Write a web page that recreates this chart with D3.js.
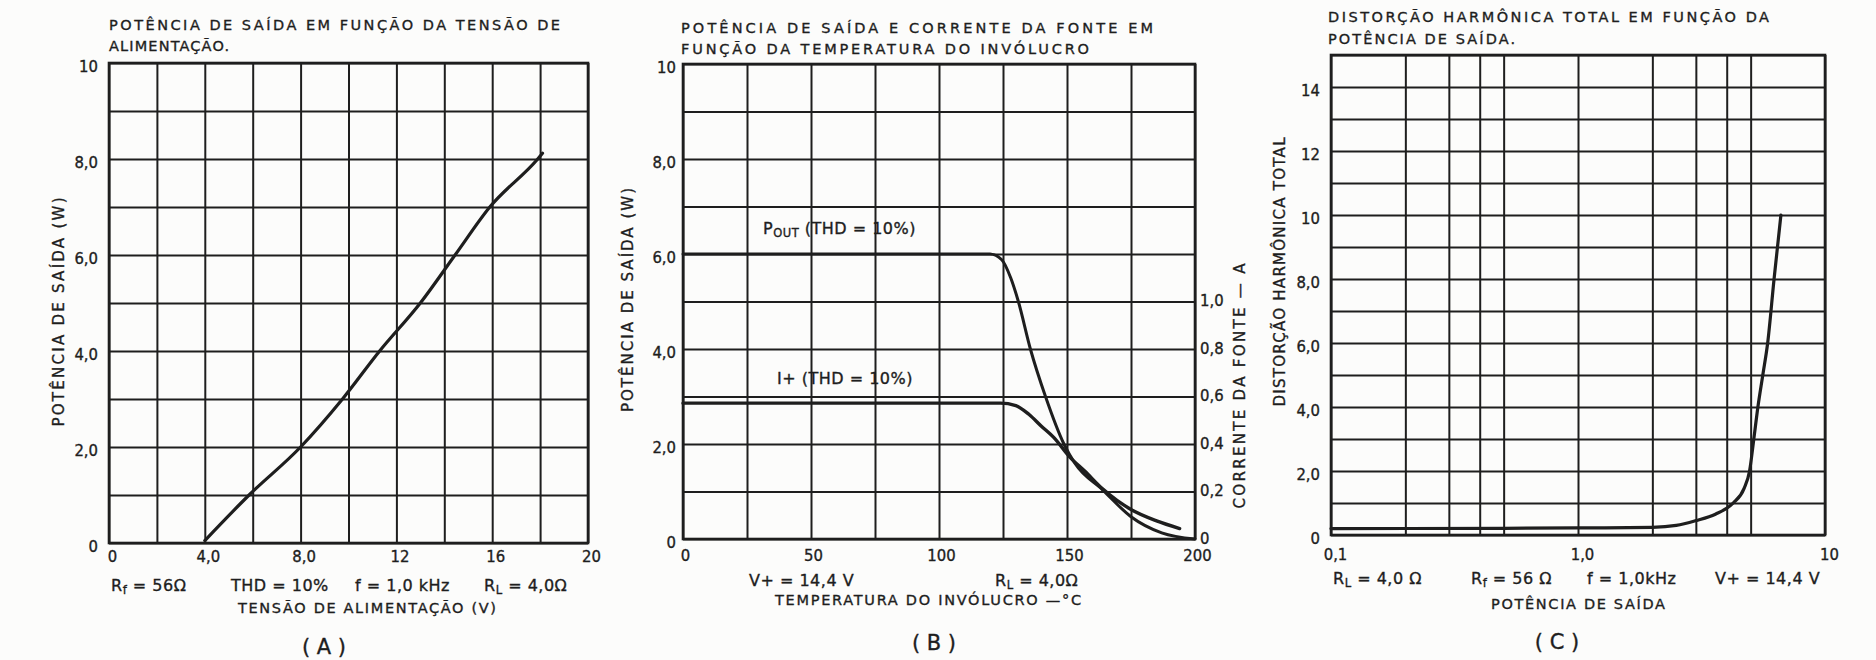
<!DOCTYPE html>
<html>
<head>
<meta charset="utf-8">
<script src="https://cdn.jsdelivr.net/npm/d3@7"></script>
<style>
  body { margin: 0; background: #fcfcfb; }
  svg { display: block; }
  text { font-family: "DejaVu Sans", sans-serif; fill: #1e1e1e; stroke: #1e1e1e; stroke-width: 0.35; }
  .tick text { font-family: "DejaVu Sans Condensed", "DejaVu Sans", sans-serif; }
</style>
</head>
<body>
<svg id="chart" width="1876" height="660"></svg>
<script>
// (A) potencia x tensao de alimentacao
var voltsA = [4.0, 5.85, 8.0, 9.75, 11.3, 13.0, 14.45, 15.9, 17.9, 18.1];
var powerA = [0.05, 1.0, 2.0, 3.0, 4.0, 5.0, 6.0, 7.0, 8.0, 8.12];
var xTicksA = [0, 4, 8, 12, 16, 20];
var xLabelsA = ["0", "4,0", "8,0", "12", "16", "20"];
var yTicksA = [0, 2, 4, 6, 8, 10];
var yLabelsA = ["0", "2,0", "4,0", "6,0", "8,0", "10"];

// (B) potencia e corrente x temperatura do involucro
var tempPout = [0, 60, 120, 124.5, 128, 131, 135.7, 141.6, 148.8, 153, 164, 175, 187, 200];
var pout = [6, 6, 6, 5.88, 5.5, 5.0, 4.0, 3.0, 2.0, 1.6, 1.03, 0.47, 0.13, 0];
var tempIplus = [0, 60, 124, 130, 135.2, 140, 144.8, 151.2, 157, 164, 175, 185, 194];
var iplus = [0.572, 0.572, 0.572, 0.562, 0.524, 0.475, 0.428, 0.344, 0.285, 0.21, 0.124, 0.076, 0.044];
var xTicksB = [0, 50, 100, 150, 200];
var xLabelsB = ["0", "50", "100", "150", "200"];
var yTicksB = [0, 2, 4, 6, 8, 10];
var yLabelsB = ["0", "2,0", "4,0", "6,0", "8,0", "10"];
var iTicksB = [0, 0.2, 0.4, 0.6, 0.8, 1.0];
var iLabelsB = ["0", "0,2", "0,4", "0,6", "0,8", "1,0"];

// (C) THD x potencia de saida
var powerC = [0.1, 0.5, 1.0, 2.0, 2.5, 3.0, 3.6, 4.25, 4.7, 4.95, 5.15, 5.35, 5.6, 5.86, 6.22, 6.63];
var thdC = [0.2, 0.21, 0.22, 0.24, 0.3, 0.45, 0.65, 1.0, 1.45, 2.0, 3.0, 4.0, 5.0, 6.0, 8.0, 10.0];
var xGridC = [0.1, 0.2, 0.3, 0.4, 0.5, 1, 2, 3, 4, 5, 10];
var xTicksC = [0.1, 1, 10];
var xLabelsC = ["0,1", "1,0", "10"];
var yTicksC = [0, 2, 4, 6, 8, 10, 12, 14];
var yLabelsC = ["0", "2,0", "4,0", "6,0", "8,0", "10", "12", "14"];

var ink = "#1e1e1e";
var svg = d3.select("#chart");

function txt(s, x, y, size, opts) {
    opts = opts || {};
    var t = svg.append("text")
        .attr("x", x).attr("y", y)
        .attr("font-size", size)
        .attr("text-anchor", opts.anchor || "start")
        .attr("dominant-baseline", "central")
        .attr("letter-spacing", opts.ls || 0);
    if (opts.len) t.attr("textLength", opts.len).attr("lengthAdjust", "spacing");
    if (opts.rot) t.attr("transform", "rotate(-90," + x + "," + y + ")");
    t.text(s);
    return t;
}

// text with a subscript, e.g. R_f = 56 ohm
function subTxt(parts, x, y, size) {
    var t = svg.append("text").attr("x", x).attr("y", y)
        .attr("font-size", size).attr("dominant-baseline", "central")
        .attr("letter-spacing", 0.5);
    t.append("tspan").text(parts[0]);
    if (parts.length > 1) {
        t.append("tspan").attr("font-size", size * 0.72).attr("dy", 5).text(parts[1]);
        t.append("tspan").attr("dy", -5).text(parts[2]);
    }
    return t;
}

function grid(x, y, xVals, yVals) {
    var h = y.range()[0] - y.range()[1];
    var w = x.range()[1] - x.range()[0];
    var gx = svg.append("g").attr("transform", "translate(0," + y.range()[0] + ")")
        .call(d3.axisBottom(x).tickValues(xVals).tickSize(-h).tickFormat(""));
    var gy = svg.append("g").attr("transform", "translate(" + x.range()[0] + ",0)")
        .call(d3.axisLeft(y).tickValues(yVals).tickSize(-w).tickFormat(""));
    [gx, gy].forEach(function (g) {
        g.select(".domain").remove();
        g.selectAll("line").attr("stroke", ink).attr("stroke-width", 2);
    });
    svg.append("rect")
        .attr("x", x.range()[0]).attr("y", y.range()[1])
        .attr("width", w).attr("height", h)
        .attr("fill", "none").attr("stroke", ink).attr("stroke-width", 2.6);
}

function labels(axis, pos, vals, names, pad) {
    var g = svg.append("g").attr("transform", pos)
        .call(axis.tickValues(vals).tickSize(0).tickPadding(pad)
            .tickFormat(function (d, i) { return names[i]; }));
    g.select(".domain").remove();
    g.attr("font-family", null).attr("font-size", null);
    g.selectAll("text").attr("font-size", 16.5).attr("fill", ink);
    return g;
}

function curve(x, y, xs, ys, wdt) {
    var line = d3.line()
        .x(function (d) { return x(d[0]); })
        .y(function (d) { return y(d[1]); })
        .curve(d3.curveMonotoneX);
    svg.append("path")
        .attr("d", line(xs.map(function (v, i) { return [v, ys[i]]; })))
        .attr("fill", "none").attr("stroke", ink)
        .attr("stroke-width", wdt).attr("stroke-linecap", "round").attr("stroke-linejoin", "round");
}

/* ---------- (A) ---------- */
(function () {
    var x = d3.scaleLinear().domain([0, 20]).range([109, 588]);
    var y = d3.scaleLinear().domain([0, 10]).range([543, 63]);
    grid(x, y, d3.range(0, 21, 2), d3.range(0, 11, 1));
    curve(x, y, voltsA, powerA, 3.2);
    labels(d3.axisLeft(y), "translate(109,3)", yTicksA, yLabelsA, 11);
    labels(d3.axisBottom(x), "translate(3,550)", xTicksA, xLabelsA, 0);

    txt("POTÊNCIA DE SAÍDA EM FUNÇÃO DA TENSÃO DE", 109, 25, 14.5, { len: 451 });
    txt("ALIMENTAÇÃO.", 109, 46, 14.5, { len: 120 });
    txt("POTÊNCIA  DE  SAÍDA (W)", 59, 312, 15, { rot: true, anchor: "middle", len: 229 });

    subTxt(["R", "f", " = 56Ω"], 111, 585, 16);
    subTxt(["THD = 10%"], 231, 585, 16);
    subTxt(["f = 1,0 kHz"], 355, 585, 16);
    subTxt(["R", "L", " = 4,0Ω"], 484, 585, 16);
    txt("TENSÃO  DE  ALIMENTAÇÃO (V)", 367, 608, 14.5, { anchor: "middle", len: 258 });
    txt("( A )", 324, 647, 21, { anchor: "middle" });
})();

/* ---------- (B) ---------- */
(function () {
    var x = d3.scaleLinear().domain([0, 200]).range([683, 1195]);
    var y = d3.scaleLinear().domain([0, 10]).range([539, 64]);
    var yI = d3.scaleLinear().domain([0, 2]).range([539, 64]);
    grid(x, y, d3.range(0, 201, 25), d3.range(0, 11, 1));
    curve(x, y, tempPout, pout, 3);
    curve(x, yI, tempIplus, iplus, 3.4);
    labels(d3.axisLeft(y), "translate(683,3)", yTicksB, yLabelsB, 7);
    labels(d3.axisRight(yI), "translate(1195,-1)", iTicksB, iLabelsB, 5)
        .selectAll("text").attr("text-anchor", "start");
    labels(d3.axisBottom(x), "translate(2,549)", xTicksB, xLabelsB, 0);

    txt("POTÊNCIA  DE  SAÍDA  E  CORRENTE  DA  FONTE  EM", 681, 28, 14.5, { len: 472 });
    txt("FUNÇÃO  DA  TEMPERATURA  DO  INVÓLUCRO", 681, 49, 14.5, { len: 408 });
    txt("POTÊNCIA  DE  SAÍDA (W)", 628, 300, 15, { rot: true, anchor: "middle", len: 224 });
    txt("CORRENTE  DA  FONTE — A", 1240, 386, 15, { rot: true, anchor: "middle", len: 245 });

    var p = svg.append("text").attr("x", 763).attr("y", 228).attr("font-size", 16)
        .attr("dominant-baseline", "central").attr("letter-spacing", 0.5);
    p.append("tspan").text("P");
    p.append("tspan").attr("font-size", 11.5).attr("dy", 5).text("OUT");
    p.append("tspan").attr("dy", -5).text(" (THD = 10%)");
    txt("I+ (THD = 10%)", 777, 378, 16, { ls: 0.5 });

    subTxt(["V+ = 14,4 V"], 749, 580, 16);
    subTxt(["R", "L", " = 4,0Ω"], 995, 580, 16);
    txt("TEMPERATURA  DO  INVÓLUCRO —°C", 928, 600, 14.5, { anchor: "middle", len: 306 });
    txt("( B )", 934, 643, 21, { anchor: "middle" });
})();

/* ---------- (C) ---------- */
(function () {
    var x = d3.scaleLog().domain([0.1, 10]).range([1331, 1825]);
    var y = d3.scaleLinear().domain([0, 15]).range([535, 55]);
    grid(x, y, xGridC, d3.range(0, 16, 1));
    curve(x, y, powerC, thdC, 3.2);
    labels(d3.axisLeft(y), "translate(1331,3)", yTicksC, yLabelsC, 11);
    labels(d3.axisBottom(x), "translate(4,548)", xTicksC, xLabelsC, 0);

    txt("DISTORÇÃO  HARMÔNICA  TOTAL  EM  FUNÇÃO  DA", 1328, 17, 14.5, { len: 441 });
    txt("POTÊNCIA  DE  SAÍDA.", 1328, 39, 14.5, { len: 187 });
    txt("DISTORÇÃO  HARMÔNICA  TOTAL", 1280, 272, 15, { rot: true, anchor: "middle", len: 269 });

    subTxt(["R", "L", " = 4,0 Ω"], 1333, 578, 16);
    subTxt(["R", "f", " = 56 Ω"], 1471, 578, 16);
    subTxt(["f = 1,0kHz"], 1587, 578, 16);
    subTxt(["V+ = 14,4 V"], 1715, 578, 16);
    txt("POTÊNCIA  DE  SAÍDA", 1578, 604, 14.5, { anchor: "middle", len: 174 });
    txt("( C )", 1557, 642, 21, { anchor: "middle" });
})();
</script>
</body>
</html>
